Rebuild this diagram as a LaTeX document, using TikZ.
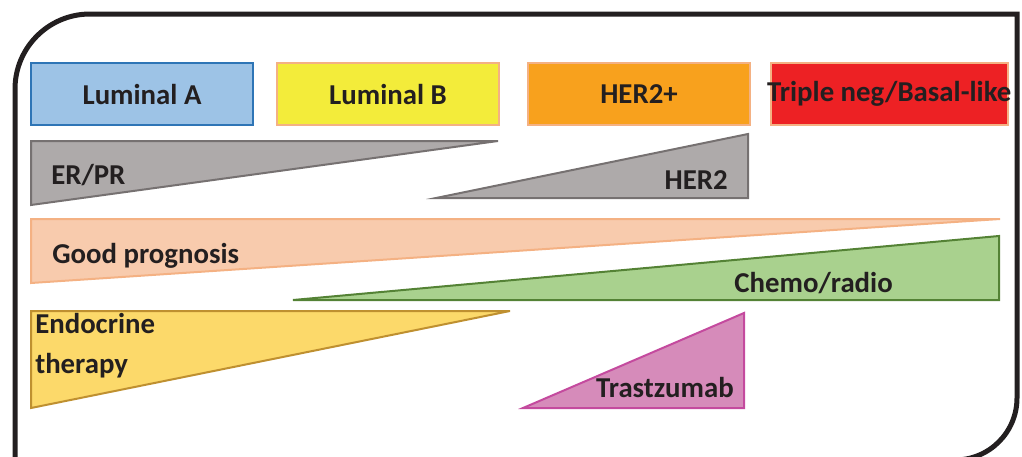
\documentclass[tikz,border=0pt]{standalone}
\usepackage{fontspec}
\setmainfont{Carlito}
\usetikzlibrary{positioning}

\definecolor{ink}{HTML}{231F20}
\definecolor{lumAf}{HTML}{9DC3E6}
\definecolor{lumAd}{HTML}{2E75B6}
\definecolor{lumBf}{HTML}{F3EC3A}
\definecolor{her2f}{HTML}{F8A11D}
\definecolor{tnegf}{HTML}{ED2124}
\definecolor{salmon}{HTML}{F4B183}
\definecolor{grayf}{HTML}{AEAAAA}
\definecolor{grayd}{HTML}{767171}
\definecolor{peachf}{HTML}{F8CBAD}
\definecolor{greenf}{HTML}{A9D18E}
\definecolor{greend}{HTML}{548235}
\definecolor{endof}{HTML}{FCD96A}
\definecolor{endod}{HTML}{BF9030}
\definecolor{pinkf}{HTML}{D68BBA}
\definecolor{pinkd}{HTML}{C44A9E}

\begin{document}
\begin{tikzpicture}[x=0.75pt,y=-0.75pt,font=\fontsize{21.6}{30}\selectfont\bfseries,text=ink,
    subtype/.style={draw=#1,line width=1.5pt,minimum width=166.5pt,minimum height=46.5pt,inner sep=0pt},
    wedge/.style={line width=1.5pt,line join=miter},
    tag/.style={inner sep=0pt}]

    \useasboundingbox (0,0) rectangle (1022,457);
    \clip (0,0) rectangle (1022,457);

    \draw[ink,line width=3.75pt] (15,470) -- (15,89) arc[start angle=180,end angle=90,radius=56.25pt]
        -- (1017,14) -- (1017,398) arc[start angle=0,end angle=-90,radius=46.5pt] -- (700,460);

    \node[subtype=lumAd,fill=lumAf] (lumA) at (142,94) {Luminal A};
    \node[subtype=salmon,fill=lumBf] (lumB) [right=16.5pt of lumA] {Luminal B};
    \node[subtype=salmon,fill=her2f] (her2p) [right=20.25pt of lumB] {HER2+};
    \node[subtype=salmon,fill=tnegf,minimum width=177.75pt] (tneg) [right=14pt of her2p] {};
    \node[tag] (tnegtext) at (tneg.center) {Triple neg/Basal-like};

    \draw[wedge,fill=grayf,draw=grayd] (31,141) -- (498,141) -- (31,205) -- cycle;
    \node[tag,anchor=base west] (erpr) at (51,184) {ER/PR};
    \draw[wedge,fill=grayf,draw=grayd] (436,198) -- (748,134) -- (748,198) -- cycle;
    \node[tag,anchor=base east] (her2) at (728,189) {HER2};

    \draw[wedge,fill=peachf,draw=salmon] (31,219) -- (1000,219) -- (31,283) -- cycle;
    \node[tag,anchor=base west] (good) at (52,263) {Good prognosis};
    \draw[wedge,fill=greenf,draw=greend] (293,300) -- (999,236) -- (999,300) -- cycle;
    \node[tag,anchor=base east] (chemo) at (893,292) {Chemo/radio};

    \draw[wedge,fill=endof,draw=endod] (31,311) -- (510,311) -- (31,408) -- cycle;
    \node[tag,anchor=base west,align=left] (endo) at (35,373) {Endocrine\\therapy};
    \draw[wedge,fill=pinkf,draw=pinkd] (523,408) -- (744,313) -- (744,408) -- cycle;
    \node[tag,anchor=base east] (trast) at (734,397) {Trastzumab};

\end{tikzpicture}
\end{document}
